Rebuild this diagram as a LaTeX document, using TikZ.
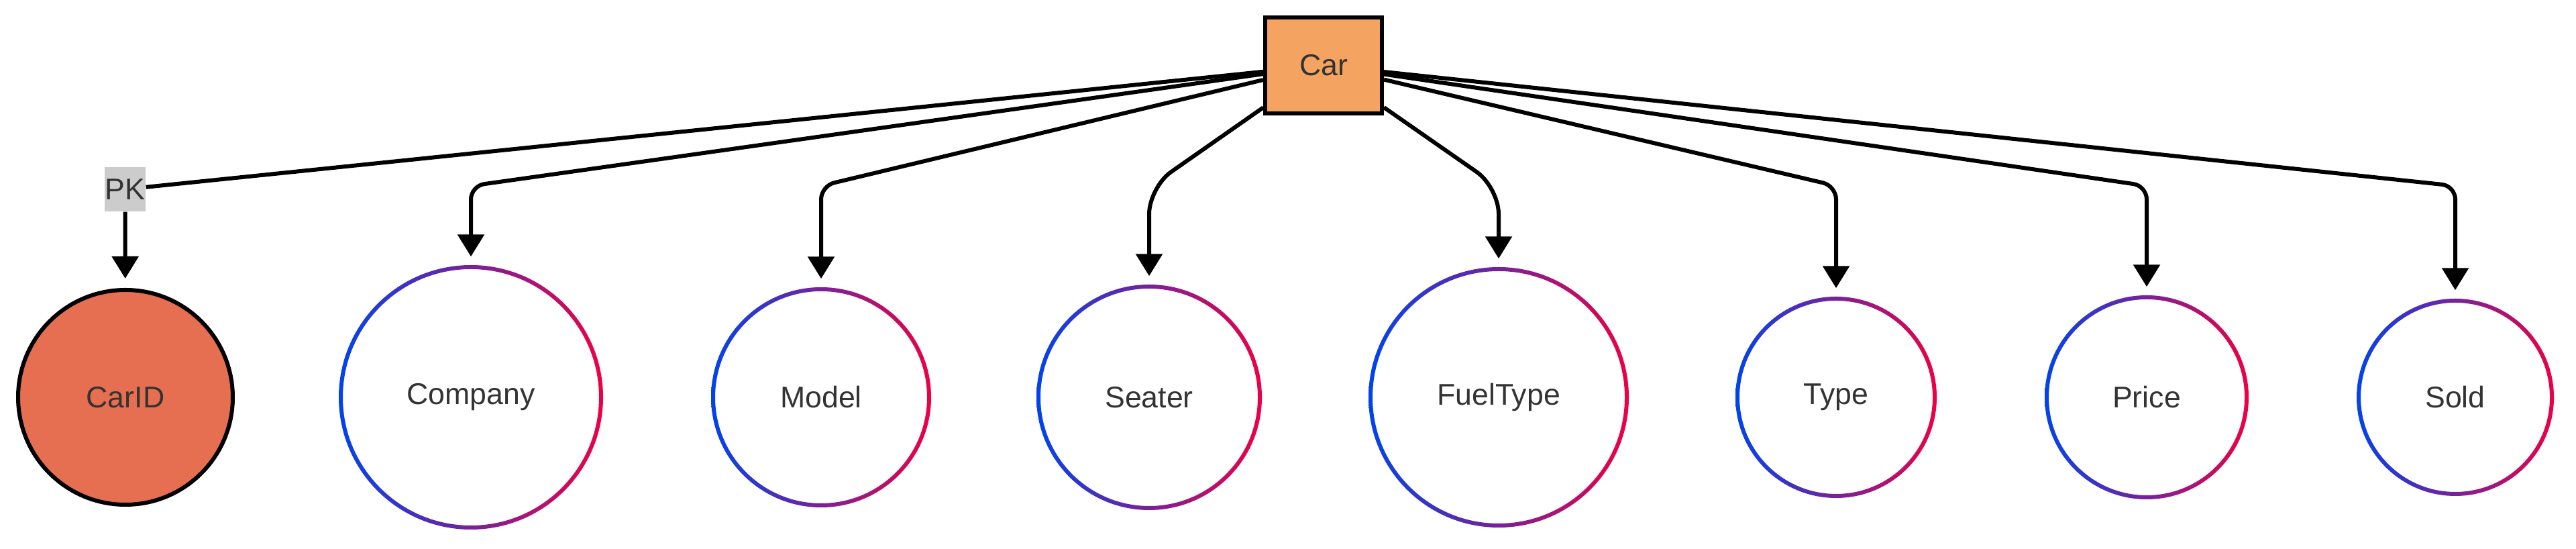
\documentclass[tikz,border=0pt]{standalone}
\usepackage{fontspec}
\setmainfont{Liberation Sans}
\usetikzlibrary{arrows.meta}
\definecolor{carfill}{HTML}{F4A460}
\definecolor{keyfill}{HTML}{E76F51}
\definecolor{pkfill}{HTML}{CCCCCC}
\definecolor{labeltext}{HTML}{333333}
\definecolor{ringblue}{HTML}{0044EE}
\definecolor{ringred}{HTML}{EE0044}

\begin{document}
\begin{tikzpicture}[
	every node/.style={text=labeltext, font=\fontsize{12.7}{15}\selectfont},
	entity/.style={draw=black, line width=0.06cm, fill=carfill, minimum width=1.74cm, minimum height=1.43cm},
	keyattr/.style={circle, draw=black, line width=0.06cm, fill=keyfill, minimum size=3.2cm},
	attr/.style={circle, fill=white, inner sep=0pt},
	pklabel/.style={fill=pkfill, inner sep=0pt, minimum width=0.61cm, minimum height=0.66cm},
	link/.style={line width=0.06cm},
	pointer/.style={link, -{Triangle[width=0.39cm,length=0.33cm]}, shorten >=0.15cm},
]
\useasboundingbox (0,0) rectangle (38.4,8.18);

\path (19.73,7.205) node[entity] (car) {Car}
		(1.865,5.36) node[pklabel] (pk) {PK}
		(1.87,2.26) node[keyattr] (carid) {CarID}
		(7.02,2.26) node[attr, minimum size=3.88cm] (company) {Company}
		(12.24,2.26) node[attr, minimum size=3.22cm] (model) {Model}
		(17.13,2.26) node[attr, minimum size=3.30cm] (seater) {Seater}
		(22.34,2.26) node[attr, minimum size=3.82cm] (fueltype) {FuelType}
		(27.37,2.26) node[attr, minimum size=2.94cm] (type) {Type}
		(32.00,2.26) node[attr, minimum size=2.98cm] (price) {Price}
		(36.60,2.26) node[attr, minimum size=2.88cm] (sold) {Sold}
		(7.02,5.41) coordinate (bcompany)
		(12.24,5.41) coordinate (bmodel)
		(17.13,5.39) coordinate (bseater)
		(22.34,5.39) coordinate (bfueltype)
		(27.37,5.41) coordinate (btype)
		(32.00,5.41) coordinate (bprice)
		(36.60,5.41) coordinate (bsold)
		;

% gradient rings round the attributes
\foreach \n/\r in {company/1.94, model/1.61, seater/1.65, fueltype/1.91, type/1.47, price/1.49, sold/1.44} {
	\begin{scope}[even odd rule]
	\clip (\n.center) circle[radius=\r+0.03] (\n.center) circle[radius=\r-0.03];
	\shade[left color=ringblue, right color=ringred] ([shift={(-\r-0.05,-\r-0.05)}]\n.center) rectangle ([shift={(\r+0.05,\r+0.05)}]\n.center);
	\end{scope}
}

\draw[link] (node cs:name=car) -- (node cs:name=pk);
\draw[pointer, shorten >=0.14cm] (node cs:name=pk) -- (node cs:name=carid);

\draw[pointer, rounded corners=0.2cm] (node cs:name=car) -- (bcompany) -- (node cs:name=company);
\draw[pointer, rounded corners=0.2cm] (node cs:name=car) -- (bmodel) -- (node cs:name=model);
\draw[pointer, rounded corners=0.4cm] (node cs:name=car) -- (bseater) -- (node cs:name=seater);
\draw[pointer, rounded corners=0.4cm] (node cs:name=car) -- (bfueltype) -- (node cs:name=fueltype);
\draw[pointer, rounded corners=0.2cm] (node cs:name=car) -- (btype) -- (node cs:name=type);
\draw[pointer, rounded corners=0.2cm] (node cs:name=car) -- (bprice) -- (node cs:name=price);
\draw[pointer, rounded corners=0.2cm] (node cs:name=car) -- (bsold) -- (node cs:name=sold);
\end{tikzpicture}
\end{document}
